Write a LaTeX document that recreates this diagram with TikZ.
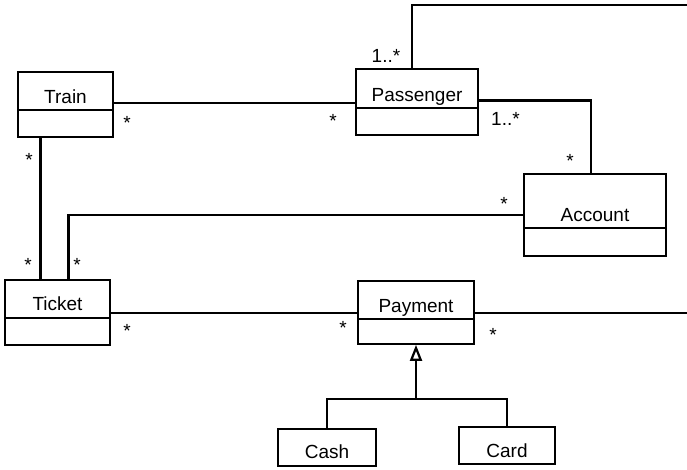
\documentclass[tikz,border=0pt]{standalone}
\usepackage{fontspec}
\setmainfont{Liberation Sans}
\usetikzlibrary{arrows.meta}
\tikzset{%
	% Style of the class name compartment
	ClassName/.style={draw=black,line width=1.8pt,inner sep=0,font=\fontsize{19}{22}\selectfont},
	% Style of the empty attribute compartment
	ClassBody/.style={draw=black,line width=1.8pt,inner sep=0},
	% Style of the multiplicity label
	MultName/.style={font=\fontsize{19}{22}\selectfont,inner sep=0},
	% Style of the association
	Connection/.style={line width=2.8pt},
	% Style of the generalisation
	Inherit/.style={Connection,-{Triangle[open,length=16pt,width=12pt,line width=2.2pt]}},
}

\begin{document}
\begin{tikzpicture}[x=1pt,y=-1pt] % STYLES
\useasboundingbox (0,0) rectangle (687,469);

%~~~~~~~~~~~~~~~~~~~~~~~~~~~~~~~~~~~~~~~~~~~~~~~~~~
% Set Classes
%~~~~~~~~~~~~~~~~~~~~~~~~~~~~~~~~~~~~~~~~~~~~~~~~~~
\node[ClassName,minimum width=95pt,text height=31pt,text depth=7pt] (TrainName) at (65.5,91) {Train};
\node[ClassBody,minimum width=95pt,minimum height=27pt] (TrainBody) at (65.5,123.5) {};

\node[ClassName,minimum width=122pt,text height=32pt,text depth=7pt] (PassengerName) at (417,88.5) {Passenger};
\node[ClassBody,minimum width=122pt,minimum height=27pt] (PassengerBody) at (417,121.5) {};

\node[ClassName,minimum width=142pt,text height=47pt,text depth=7pt] (AccountName) at (595,201) {Account};
\node[ClassBody,minimum width=142pt,minimum height=28pt] (AccountBody) at (595,242) {};

\node[ClassName,minimum width=105pt,text height=30pt,text depth=8pt] (TicketName) at (57.5,299) {Ticket};
\node[ClassBody,minimum width=105pt,minimum height=27pt] (TicketBody) at (57.5,331.5) {};

\node[ClassName,minimum width=116pt,text height=31pt,text depth=7pt] (PaymentName) at (416,300) {Payment};
\node[ClassBody,minimum width=116pt,minimum height=25pt] (PaymentBody) at (416,331.5) {};

\node[ClassName,minimum width=98pt,text height=29pt,text depth=8pt] (CashBox) at (327,447.5) {Cash};
\node[ClassName,minimum width=96pt,text height=30pt,text depth=7pt] (CardBox) at (507,445.5) {Card};

\coordinate (PassengerEnd) at (687,5);
\coordinate (PaymentEnd) at (687,313);
\coordinate (Joint) at (416,399);

%~~~~~~~~~~~~~~~~~~~~~~~~~~~~~~~~~~~~~~~~~~~~~~~~~~
% Set Associations
%~~~~~~~~~~~~~~~~~~~~~~~~~~~~~~~~~~~~~~~~~~~~~~~~~~
%Train to Passenger
\draw[Connection] ([yshift=-12pt]TrainName.east) -- ([yshift=-12pt]TrainName.east -| PassengerName.west);
\node[MultName] at (127,123) {*};
\node[MultName] at (333,121) {*};

%Train to Ticket
\draw[Connection] ([xshift=-25pt]TrainBody.south) -- ([xshift=-25pt]TrainBody.south |- TicketName.north);
\node[MultName] at (29,160) {*};
\node[MultName] at (28,265) {*};

%Passenger to the right edge
\draw[Connection] ([xshift=-5pt]PassengerName.north) |- (PassengerEnd);
\node[MultName] at (386,56) {1..*};

%Passenger to Account
\draw[Connection] ([yshift=-12pt]PassengerName.east) -| ([xshift=-4pt]AccountName.north);
\node[MultName] at (505.5,119) {1..*};
\node[MultName] at (570,161) {*};

%Account to Ticket
\draw[Connection] ([yshift=-14pt]AccountName.west) -| ([xshift=11pt]TicketName.north);
\node[MultName] at (504,204) {*};
\node[MultName] at (77,265) {*};

%Ticket to Payment
\draw[Connection] ([yshift=-14pt]TicketName.east) -- ([yshift=-14pt]TicketName.east -| PaymentName.west);
\node[MultName] at (127,331) {*};
\node[MultName] at (343,328) {*};

%Payment to the right edge
\draw[Connection] (PaymentEnd -| PaymentName.east) -- (PaymentEnd);
\node[MultName] at (493,335) {*};

%~~~~~~~~~~~~~~~~~~~~~~~~~~~~~~~~~~~~~~~~~~~~~~~~~~
% Set Generalisation
%~~~~~~~~~~~~~~~~~~~~~~~~~~~~~~~~~~~~~~~~~~~~~~~~~~
\draw[Connection] (CashBox.north) |- (Joint) -| (CardBox.north);
\draw[Inherit] (Joint) -- (PaymentBody.south);

\end{tikzpicture}
\end{document}
